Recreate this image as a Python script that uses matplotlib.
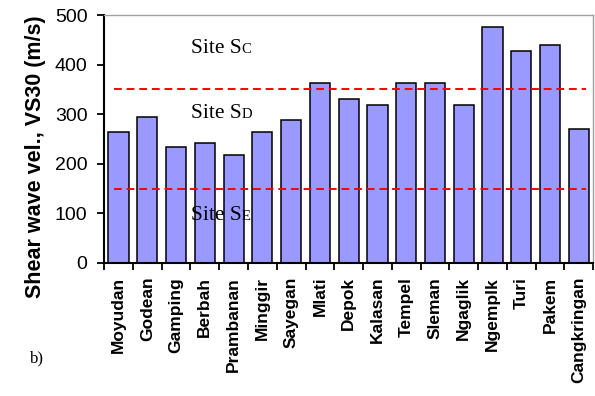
import matplotlib
matplotlib.use("Agg")
from matplotlib import pyplot as plt
import numpy as np

sites = ["Moyudan", "Godean", "Gamping", "Berbah", "Prambanan", "Minggir",
         "Sayegan", "Mlati", "Depok", "Kalasan", "Tempel", "Sleman",
         "Ngaglik", "Ngemplk", "Turi", "Pakem", "Cangkringan"]
vs30 = [265, 294, 234, 241, 217, 265, 289, 362, 330, 318, 362, 362,
        318, 475, 427, 439, 270]

# site class limits (m/s)
limits = [150, 350]
classes = ["C", "D", "E"]
class_y = [424, 292, 87]

fig = plt.figure(figsize=(5.95, 3.96), dpi=100)
ax = fig.add_axes([0.175, 0.336, 0.822, 0.626])

x = np.arange(len(sites))
ax.bar(x, vs30, width=0.7, color="#9999ff", edgecolor="black", linewidth=1.1)

for lim in limits:
    ax.axhline(lim, xmin=0.02, xmax=0.985, color="red", linestyle=(0, (4, 2.5)),
               linewidth=1.4)

for c, yv in zip(classes, class_y):
    ax.text(2.52, yv, "Site S", family="Liberation Serif", fontsize=15.5,
            va="baseline", ha="left")
    ax.annotate(c, (2.52, yv), xytext=(36.5, 0), textcoords="offset points",
                family="Liberation Serif", fontsize=10.5, va="baseline", ha="left")

ax.set_xlim(-0.5, len(sites) - 0.5)
ax.set_ylim(0, 500)
ax.set_yticks(range(0, 501, 100))
ax.set_xticks(x)
ax.set_xticklabels(sites, rotation=90, fontsize=12.5, fontweight="bold",
                   family="Liberation Sans")
ax.set_xticks(np.arange(-0.5, len(sites)), minor=True)
ax.tick_params(axis="x", which="major", length=0, pad=10)
ax.tick_params(axis="x", which="minor", length=5, width=1.3, direction="out")
ax.tick_params(axis="y", length=5, width=1.3, direction="out", pad=7)
for lab in ax.get_yticklabels():
    lab.set_family("Liberation Sans")
    lab.set_fontsize(14)

ax.set_ylabel("Shear wave vel., VS30 (m/s)", fontsize=15.5, fontweight="bold",
              family="Liberation Sans", labelpad=11)
ax.yaxis.set_label_coords(-0.118, 0.43)

for side in ["left", "bottom"]:
    ax.spines[side].set_linewidth(1.5)
for side in ["top", "right"]:
    ax.spines[side].set_color("#a0a0a0")
    ax.spines[side].set_linewidth(1.0)

fig.text(30 / 595, 1 - 362 / 396, "b)", family="Liberation Serif", fontsize=12)

fig.savefig("out.png", dpi=100)
